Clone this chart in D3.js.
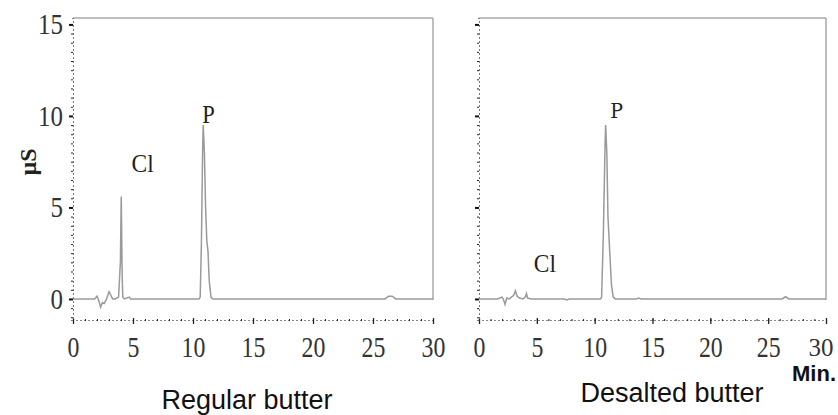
<!DOCTYPE html>
<html>
<head>
<meta charset="utf-8">
<script src="https://cdn.jsdelivr.net/npm/d3@7"></script>
<style>
  body { margin: 0; background: #fff; }
  svg { display: block; }
</style>
</head>
<body>
<svg id="chart" width="838" height="415"></svg>
<script>
// chromatogram traces (time in min, signal in µS)
var regularTime   = [0, 1.8, 2.0, 2.15, 2.3, 2.45, 2.6, 2.8, 3.0, 3.15, 3.3, 3.5, 3.8, 3.9, 3.95, 4.02, 4.1, 4.15, 4.3, 4.7, 4.8, 4.9,
                     10.5, 10.6, 10.7, 10.8, 10.85, 10.95, 11.05, 11.15, 11.25, 11.35, 11.5, 11.65, 26.0, 26.3, 26.6, 26.9, 30];
var regularSignal = [0, 0, 0.15, -0.1, -0.45, -0.2, -0.25, 0.0, 0.4, 0.2, 0.0, 0, 0.1, 1.4, 2.0, 5.6, 1.2, 0.1, 0, 0.1, 0, 0,
                     0, 0.1, 3.0, 8.0, 9.5, 8.0, 5.0, 3.2, 2.6, 1.0, 0.1, 0, 0, 0.15, 0.15, 0, 0];

var desaltedTime   = [0, 1.6, 1.8, 2.0, 2.1, 2.25, 2.4, 2.6, 2.8, 3.0, 3.15, 3.3, 3.5, 3.8, 4.0, 4.1, 4.2, 4.5, 5.0, 7.4, 7.6, 7.8,
                      10.5, 10.6, 10.75, 10.9, 10.95, 11.05, 11.15, 11.3, 11.45, 11.6, 11.8, 13.6, 13.8, 14.0, 26.2, 26.5, 26.8, 30];
var desaltedSignal = [0, 0, 0.05, 0.1, 0.0, -0.3, 0.05, 0.0, 0.1, 0.2, 0.45, 0.15, 0.05, 0.0, 0.1, 0.3, 0.05, 0, 0, 0, -0.05, 0,
                      0, 0.1, 3.5, 8.5, 9.5, 8.0, 4.5, 2.6, 0.8, 0.1, 0, 0, 0.05, 0, 0, 0.12, 0, 0];

var xTicks = [0, 5, 10, 15, 20, 25, 30];
var yTicks = [0, 5, 10, 15];
var panelTitles = ["Regular butter", "Desalted butter"];

var serif = "Liberation Serif, DejaVu Serif, serif";
var svg = d3.select("#chart");

var y = d3.scaleLinear().domain([-1.15, 15.35]).range([320, 18]);

// the scanned labels are a bit taller than wide: squeeze glyphs horizontally
function squeeze(sel, k) {
  sel.each(function() {
    var w = this.getComputedTextLength();
    if (w > 0) d3.select(this).attr("textLength", w * k).attr("lengthAdjust", "spacingAndGlyphs");
  });
}

var panels = [
  {time: regularTime, signal: regularSignal, x0: 73, x1: 433, labels: true, title: panelTitles[0], tx: 247, ty: 409,
   notes: [{t: "Cl", x: 5.8, y: 6.94, font: serif, size: 26}, {t: "P", x: 11.3, y: 9.6, font: serif, size: 25}]},
  {time: desaltedTime, signal: desaltedSignal, x0: 479, x1: 826, labels: false, title: panelTitles[1], tx: 672, ty: 402,
   notes: [{t: "Cl", x: 5.7, y: 1.47, font: serif, size: 26}, {t: "P", x: 11.9, y: 9.89, font: "DejaVu Serif", size: 21}]}
];

panels.forEach(function(p, pi) {
  var x = d3.scaleLinear().domain([0, 30]).range([p.x0, p.x1]);
  var g = svg.append("g");

  // top & right frame
  g.append("line").attr("x1", x(0)).attr("x2", x(30)).attr("y1", y.range()[1]).attr("y2", y.range()[1])
    .attr("stroke", "#a8a8a8").attr("stroke-width", 1.5);
  g.append("line").attr("x1", x(30)).attr("x2", x(30)).attr("y1", y.range()[1]).attr("y2", y(0) + 1)
    .attr("stroke", "#a8a8a8").attr("stroke-width", 1.5);

  // minor ticks (dotted look)
  var xa = g.append("g").attr("transform", "translate(0,320)")
    .call(d3.axisBottom(x).tickValues(d3.range(0, 31, 1)).tickSize(2).tickFormat(""));
  xa.select(".domain").attr("stroke", "#888").attr("stroke-dasharray", "2,2");
  xa.selectAll(".tick line").attr("stroke", "#222").attr("transform", "translate(0,-1)");

  var xm = g.append("g").attr("transform", "translate(0,320)")
    .call(d3.axisBottom(x).tickValues(xTicks).tickSize(6).tickPadding(10));
  xm.select(".domain").remove();
  xm.selectAll(".tick line").attr("stroke", "#222").attr("stroke-width", 1.3).attr("transform", "translate(0,-2)");
  var xt = xm.selectAll(".tick text").attr("font-size", 29).attr("font-family", serif).attr("fill", "#333");
  // last label of the right panel sits against the page edge
  var edge = function(d) { return pi === 1 && d === 30; };
  xt.filter(function(d) { return !edge(d); }).call(squeeze, 0.82);
  xt.filter(edge).attr("font-size", 25).attr("text-anchor", "end").attr("dx", 7).attr("dy", "0.78em");

  var ya = g.append("g").attr("transform", "translate(" + x(0) + ",0)")
    .call(d3.axisLeft(y).tickValues(d3.range(-1, 15.5, 0.5)).tickSize(2).tickFormat(""));
  ya.select(".domain").attr("stroke", "#777").attr("stroke-dasharray", "2,2");
  ya.selectAll(".tick line").attr("stroke", "#222");

  var ym = g.append("g").attr("transform", "translate(" + x(0) + ",0)")
    .call(d3.axisLeft(y).tickValues(yTicks).tickSize(4).tickPadding(6)
      .tickFormat(p.labels ? d3.format("d") : ""));
  ym.select(".domain").remove();
  ym.selectAll(".tick line").attr("stroke", "#111").attr("stroke-width", 2);
  ym.selectAll(".tick text").attr("font-size", 29).attr("font-family", serif).attr("fill", "#333")
    .call(squeeze, 0.86);

  // trace
  var pts = p.time.map(function(t, i) { return [t, p.signal[i]]; });
  g.append("path").datum(pts)
    .attr("fill", "none").attr("stroke", "#9a9a9a").attr("stroke-width", 1.5)
    .attr("d", d3.line().x(function(d) { return x(d[0]); }).y(function(d) { return y(d[1]); }));

  p.notes.forEach(function(n) {
    g.append("text").attr("x", x(n.x)).attr("y", y(n.y)).attr("text-anchor", "middle")
      .attr("font-family", n.font).attr("font-size", n.size).attr("fill", "#222").text(n.t)
      .call(squeeze, 0.9);
  });

  g.append("text").attr("x", p.tx).attr("y", p.ty).attr("text-anchor", "middle")
    .attr("font-family", "Liberation Sans, Arial, sans-serif").attr("font-size", 27).attr("fill", "#111")
    .text(p.title);
});

svg.append("text").attr("transform", "translate(36,162) rotate(-90)").attr("text-anchor", "middle")
  .attr("font-family", serif).attr("font-weight", "bold").attr("font-size", 24).attr("fill", "#222")
  .text("µS");

svg.append("text").attr("x", 836).attr("y", 381).attr("text-anchor", "end")
  .attr("font-family", "Liberation Sans, Arial, sans-serif").attr("font-weight", "bold").attr("font-size", 22).attr("fill", "#111")
  .text("Min.");
</script>
</body>
</html>
